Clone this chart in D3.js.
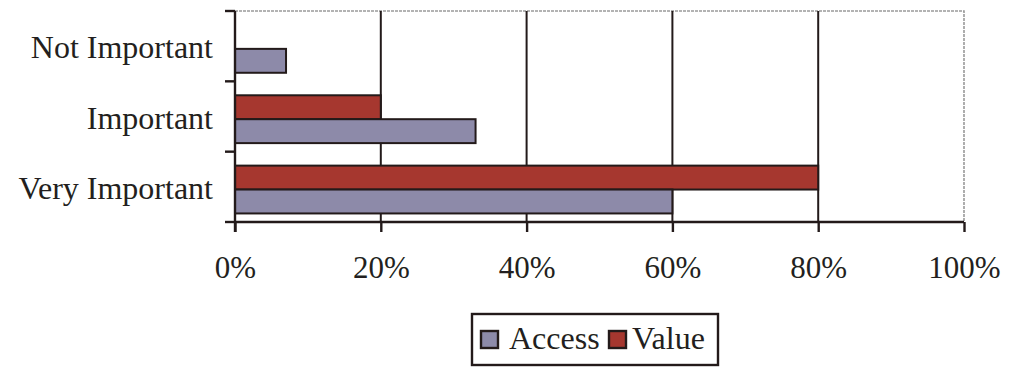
<!DOCTYPE html>
<html>
<head>
<meta charset="utf-8">
<script src="https://cdn.jsdelivr.net/npm/d3@7"></script>
<style>
  html, body { margin: 0; padding: 0; background: #fff; }
  svg { display: block; }
  text { font-family: "Liberation Serif", "Times New Roman", serif; fill: #231f20; }
</style>
</head>
<body>
<svg id="chart" width="1013" height="368"></svg>
<script>
// Importance ratings, share of respondents
const categories = ["Not Important", "Important", "Very Important"];
const seriesNames = ["Value", "Access"];
const accessValues = [7, 33, 60];
const valueValues = [0, 20, 80];
const xTicks = [0, 20, 40, 60, 80, 100];

const colors = { Access: "#8d8aa9", Value: "#a6372f" };
const ink = "#231a1a";

const svg = d3.select("#chart");
const plot = { left: 235, right: 964, top: 11, bottom: 222 };

const x = d3.scaleLinear().domain([0, 100]).range([plot.left, plot.right]);
const y = d3.scaleBand().domain(categories).range([plot.top, plot.bottom])
  .paddingInner(0.32).paddingOuter(0.16).align(0.62);
const ySub = d3.scaleBand().domain(seriesNames).range([0, y.bandwidth()]);

const rows = categories.map((c, i) => ({
  category: c,
  bars: [
    { series: "Value", v: valueValues[i] },
    { series: "Access", v: accessValues[i] }
  ]
}));

// Plot frame: light top and right edges
svg.append("path")
  .attr("d", `M${plot.left},${plot.top}H${plot.right}V${plot.bottom}`)
  .attr("fill", "none").attr("stroke", "#9a9a9a").attr("stroke-width", 1.6)
  .attr("stroke-dasharray", "3,1");

// Vertical gridlines
svg.append("g").selectAll("line")
  .data(xTicks.filter(t => t > 0 && t < 100))
  .join("line")
  .attr("x1", d => x(d)).attr("x2", d => x(d))
  .attr("y1", plot.top).attr("y2", plot.bottom)
  .attr("stroke", ink).attr("stroke-width", 2);

// Bars
const groups = svg.append("g").selectAll("g")
  .data(rows).join("g")
  .attr("transform", d => `translate(0,${y(d.category)})`);
groups.selectAll("rect")
  .data(d => d.bars.filter(b => b.v > 0))
  .join("rect")
  .attr("x", x(0))
  .attr("y", d => ySub(d.series))
  .attr("width", d => x(d.v) - x(0))
  .attr("height", ySub.bandwidth())
  .attr("fill", d => colors[d.series])
  .attr("stroke", ink).attr("stroke-width", 2);

// X axis
const xAxis = d3.axisBottom(x)
  .tickValues(xTicks)
  .tickFormat(d => d + "%")
  .tickSize(10).tickPadding(24);
const gx = svg.append("g")
  .attr("transform", `translate(0,${plot.bottom})`)
  .call(xAxis);
gx.select(".domain").attr("stroke", ink).attr("stroke-width", 2.4)
  .attr("d", `M${plot.left},0H${plot.right}`);
gx.selectAll(".tick line").attr("stroke", ink).attr("stroke-width", 2.4);
gx.selectAll(".tick text").attr("font-size", 31)
  .attr("font-family", "Liberation Serif, Times New Roman, serif")
  .attr("fill", "#231f20");

// Y axis: category labels centred in bands, ticks on band boundaries
const gy = svg.append("g");
gy.append("line")
  .attr("x1", plot.left).attr("x2", plot.left)
  .attr("y1", plot.top).attr("y2", plot.bottom + 10)
  .attr("stroke", ink).attr("stroke-width", 2.4);
const boundaries = d3.range(categories.length + 1)
  .map(i => plot.top + i * (plot.bottom - plot.top) / categories.length);
gy.selectAll("line.tick")
  .data(boundaries).join("line").attr("class", "tick")
  .attr("x1", plot.left - 10).attr("x2", plot.left)
  .attr("y1", d => d).attr("y2", d => d)
  .attr("stroke", ink).attr("stroke-width", 2.4);
gy.selectAll("text")
  .data(categories).join("text")
  .attr("x", plot.left - 22)
  .attr("y", d => y(d) + y.bandwidth() / 2)
  .attr("dy", "0.3em")
  .attr("text-anchor", "end")
  .attr("font-size", 32)
  .text(d => d);

// Legend
const legend = svg.append("g").attr("transform", "translate(472,314)");
legend.append("rect")
  .attr("width", 246).attr("height", 51)
  .attr("fill", "#fff").attr("stroke", ink).attr("stroke-width", 2.4);
const legendItems = [
  { name: "Access", sx: 9, tx: 37 },
  { name: "Value", sx: 137, tx: 160 }
];
const li = legend.selectAll("g.item").data(legendItems).join("g").attr("class", "item");
li.append("rect")
  .attr("x", d => d.sx).attr("y", 17)
  .attr("width", 17).attr("height", 17)
  .attr("fill", d => colors[d.name])
  .attr("stroke", ink).attr("stroke-width", 2.4);
li.append("text")
  .attr("x", d => d.tx).attr("y", 35)
  .attr("font-size", 32)
  .text(d => d.name);
</script>
</body>
</html>
